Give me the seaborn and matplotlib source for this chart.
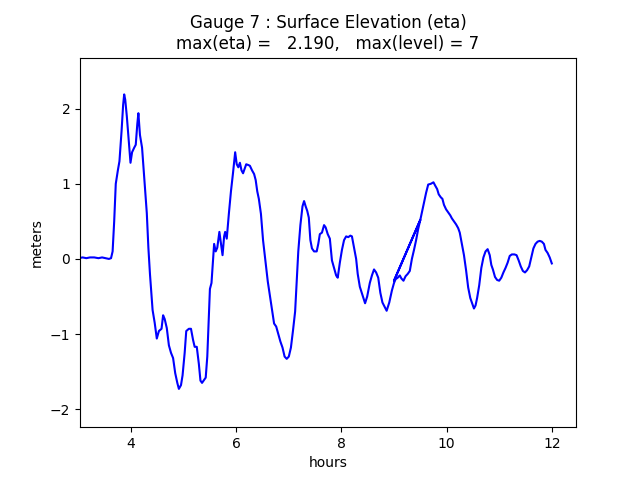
import numpy as np
import pandas as pd
import matplotlib
matplotlib.use('Agg')
import matplotlib.pyplot as plt
import seaborn as sns

# gauge 7 time series (hours, meters)
# first run, up to the restart point
t_run1 = [3.00, 3.08, 3.15, 3.22, 3.30, 3.38, 3.45, 3.52, 3.58, 3.62, 3.65, 3.68, 3.71, 3.75, 3.78,
          3.82, 3.85, 3.87, 3.89, 3.92, 3.96, 3.99, 4.02, 4.06, 4.09, 4.12, 4.14, 4.17, 4.21, 4.25,
          4.30, 4.33, 4.36, 4.41, 4.45, 4.49, 4.53, 4.58, 4.61, 4.64, 4.68, 4.72, 4.76, 4.80, 4.84,
          4.88, 4.91, 4.95, 4.98, 5.02, 5.05, 5.10, 5.14, 5.18, 5.21, 5.25, 5.29, 5.32, 5.35, 5.39,
          5.42, 5.45, 5.48, 5.50, 5.53, 5.56, 5.58, 5.61, 5.64, 5.68, 5.71, 5.74, 5.77, 5.79, 5.82,
          5.86, 5.90, 5.94, 5.98, 6.01, 6.04, 6.07, 6.10, 6.13, 6.16, 6.19, 6.23, 6.26, 6.30, 6.34,
          6.37, 6.40, 6.43, 6.47, 6.51, 6.56, 6.60, 6.66, 6.72, 6.76, 6.80, 6.84, 6.88, 6.92, 6.96,
          7.00, 7.04, 7.08, 7.12, 7.15, 7.18, 7.22, 7.26, 7.29, 7.32, 7.35, 7.38, 7.41, 7.44, 7.48,
          7.53, 7.56, 7.59, 7.63, 7.67, 7.70, 7.74, 7.78, 7.82, 7.86, 7.90, 7.93, 7.97, 8.01, 8.05,
          8.09, 8.13, 8.17, 8.20, 8.24, 8.28, 8.31, 8.35, 8.40, 8.45, 8.49, 8.54, 8.58, 8.62, 8.66,
          8.70, 8.74, 8.78, 8.83, 8.86, 8.91, 8.96, 9.00, 9.03, 9.07, 9.11, 9.14, 9.18, 9.22, 9.26,
          9.30, 9.34, 9.38, 9.42, 9.46, 9.50]
eta_run1 = [0.01, 0.02, 0.01, 0.02, 0.02, 0.01, 0.02, 0.01, 0.00, 0.01, 0.10, 0.50, 1.00, 1.18, 1.30,
            1.70, 2.05, 2.19, 2.12, 1.90, 1.55, 1.28, 1.42, 1.48, 1.52, 1.80, 1.94, 1.65, 1.48, 1.10,
            0.61, 0.15, -0.20, -0.68, -0.85, -1.06, -0.96, -0.93, -0.75, -0.80, -0.92, -1.15, -1.25, -1.32, -1.52,
            -1.65, -1.73, -1.68, -1.55, -1.25, -0.96, -0.93, -0.93, -1.08, -1.17, -1.17, -1.40, -1.62, -1.65, -1.61,
            -1.58, -1.30, -0.75, -0.40, -0.32, 0.00, 0.20, 0.10, 0.15, 0.36, 0.20, 0.05, 0.30, 0.36, 0.27,
            0.60, 0.90, 1.15, 1.42, 1.26, 1.22, 1.28, 1.18, 1.14, 1.20, 1.26, 1.25, 1.24, 1.18, 1.13,
            1.05, 0.90, 0.80, 0.60, 0.25, -0.05, -0.30, -0.58, -0.86, -0.90, -1.00, -1.10, -1.18, -1.30, -1.33,
            -1.30, -1.18, -0.95, -0.70, -0.30, 0.10, 0.45, 0.70, 0.77, 0.70, 0.64, 0.55, 0.25, 0.14, 0.10,
            0.10, 0.20, 0.33, 0.35, 0.45, 0.42, 0.33, 0.27, -0.02, -0.12, -0.22, -0.25, -0.05, 0.12, 0.25,
            0.30, 0.29, 0.31, 0.30, 0.15, 0.00, -0.20, -0.37, -0.48, -0.59, -0.50, -0.32, -0.22, -0.14, -0.18,
            -0.25, -0.45, -0.58, -0.65, -0.69, -0.58, -0.42, -0.32, -0.27, -0.25, -0.22, -0.26, -0.29, -0.23, -0.20,
            -0.16, 0.00, 0.12, 0.25, 0.40, 0.52]

# restarted run
t_run2 = [9.00, 9.50, 9.53, 9.57, 9.61, 9.65, 9.70, 9.75, 9.78, 9.82, 9.85, 9.89, 9.92, 9.95, 9.99,
          10.03, 10.07, 10.10, 10.14, 10.18, 10.22, 10.25, 10.29, 10.33, 10.37, 10.41, 10.45, 10.49, 10.52, 10.55,
          10.58, 10.62, 10.66, 10.70, 10.74, 10.78, 10.82, 10.85, 10.88, 10.92, 10.96, 11.00, 11.04, 11.08, 11.12,
          11.16, 11.20, 11.24, 11.29, 11.33, 11.37, 11.41, 11.45, 11.49, 11.53, 11.57, 11.61, 11.65, 11.69, 11.73,
          11.77, 11.81, 11.85, 11.88, 11.92, 11.96, 12.00]
eta_run2 = [-0.29, 0.52, 0.62, 0.75, 0.88, 0.99, 1.00, 1.02, 0.98, 0.93, 0.86, 0.82, 0.80, 0.72, 0.66,
            0.62, 0.58, 0.54, 0.50, 0.46, 0.41, 0.35, 0.20, 0.05, -0.15, -0.38, -0.52, -0.60, -0.66, -0.62,
            -0.52, -0.35, -0.12, 0.02, 0.10, 0.13, 0.05, -0.08, -0.14, -0.24, -0.28, -0.29, -0.25, -0.18, -0.12,
            -0.05, 0.04, 0.06, 0.06, 0.05, -0.02, -0.10, -0.16, -0.18, -0.15, -0.10, 0.02, 0.14, 0.20, 0.23,
            0.24, 0.23, 0.20, 0.12, 0.08, 0.02, -0.06]

gauge_no = 7
max_level = 7

df = pd.DataFrame({'hours': t_run1 + t_run2, 'eta': eta_run1 + eta_run2})

fig, ax = plt.subplots(figsize=(6.4, 4.8), dpi=100)
sns.lineplot(data=df, x='hours', y='eta', sort=False, estimator=None,
             color='b', linewidth=1.5, ax=ax)

ax.set_xlim(3.03, 12.46)
ax.set_ylim(-2.24, 2.68)
ax.set_xticks([4, 6, 8, 10, 12])
ax.set_yticks([-2, -1, 0, 1, 2])
ax.set_xlabel('hours')
ax.set_ylabel('meters')
ax.set_title('Gauge %i : Surface Elevation (eta)\nmax(eta) = %7.3f,   max(level) = %i'
             % (gauge_no, df['eta'].max(), max_level))

plt.savefig('out.png', dpi=100)
